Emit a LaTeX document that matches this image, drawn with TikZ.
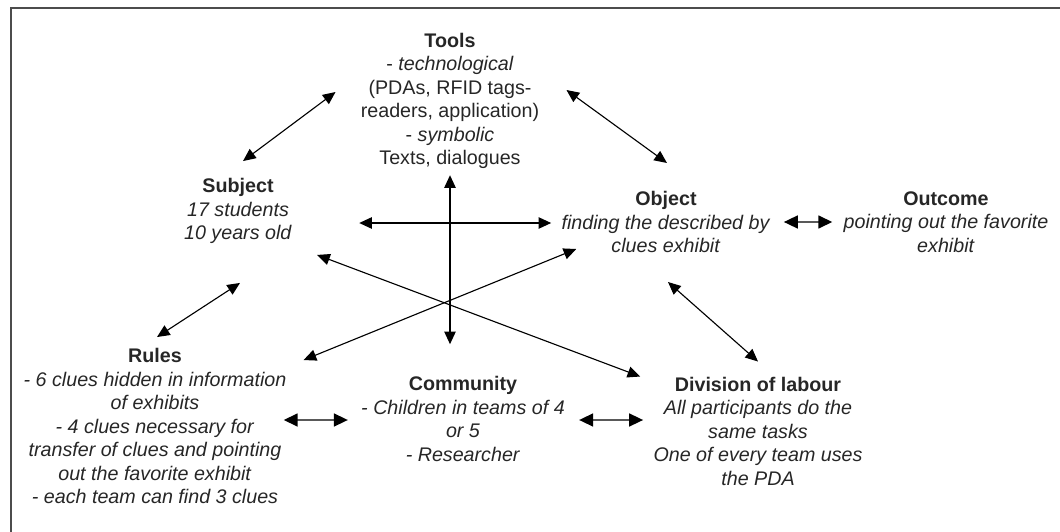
\documentclass[tikz,border=0pt]{standalone}
\usepackage{fontspec}
\setmainfont{Liberation Sans}
\usetikzlibrary{arrows.meta}

\begin{document}
\begin{tikzpicture}[x=0.025cm,y=-0.025cm,<->,>={Triangle[length=9pt,width=8pt]},
  txt node/.style={align=center,inner sep=0pt,text=black!85,font=\fontsize{14}{16.7}\selectfont},
  thin link/.style={line width=0.8pt},
  mid link/.style={line width=1.2pt},
  thick link/.style={line width=1.8pt,draw=black!65,>={Triangle[length=10pt,width=9pt,color=black]}}]
   \useasboundingbox (0,0) rectangle (1060,532);
   \draw[-,line width=1.2pt,black!70] (11,532) -- (11,8) -- (1060,8);

   \node[txt node] (tools)   at (450,101) {\textbf{Tools}\\- \textit{technological}\\(PDAs, RFID tags-\\readers, application)\\- \textit{symbolic}\\Texts, dialogues};
   \node[txt node] (subject) at (238,211) {\textbf{Subject}\\\textit{17 students}\\\textit{10 years old}};
   \node[txt node] (object)  at (666,222) {\textbf{Object}\\\textit{finding the described by}\\\textit{clues exhibit}};
   \node[txt node] (outcome) at (946,222) {\textbf{Outcome}\\\textit{pointing out the favorite}\\\textit{exhibit}};
   \node[txt node] (rules)   at (155,426) {\textbf{Rules}\\\textit{- 6 clues hidden in information}\\\textit{of exhibits}\\\textit{- 4 clues necessary for}\\\textit{transfer of clues and pointing}\\\textit{out the favorite exhibit}\\\textit{- each team can find 3 clues}};
   \node[txt node] (community) at (463,419) {\textbf{Community}\\\textit{- Children in teams of 4}\\\textit{or 5}\\\textit{- Researcher}};
   \node[txt node] (division) at (758,431) {\textbf{Division of labour}\\\textit{All participants do the}\\\textit{same tasks}\\\textit{One of every team uses}\\\textit{the PDA}};

   % triangle sides
   \draw[thin link] ([shift={(5,-17)}]subject.north) -- ([shift={(-25,-9)}]tools.west);
   \draw[thin link] ([shift={(27,-11)}]tools.east) -- ([shift={(1,-28)}]object.north);
   \draw[thin link] ([shift={(2,39)}]subject.south) -- ([shift={(2,-11)}]rules.north);
   \draw[thin link] ([shift={(2,29)}]object.south) -- ([shift={(0,-15)}]division.north);
   % cross in the middle
   \draw[mid link] ([shift={(67,12)}]subject.east) -- ([shift={(-10,1)}]object.west);
   \draw[mid link] ([shift={(0,6)}]tools.south) -- ([shift={(0,-32)}]tools.south |- community.north);
   \draw[thin link] ([shift={(25,11)}]subject.south east) -- ([shift={(-13,0)}]division.north west);
   \draw[thin link] ([shift={(17,12)}]rules.north east) -- ([shift={(15,-4)}]object.south west);
   % short links
   \draw[thick link] ([shift={(13,0)}]object.east) -- ([shift={(-11,0)}]outcome.west);
   \draw[thick link] ([shift={(-3,-6)}]rules.east) -- ([shift={(-13,1)}]community.west);
   \draw[thick link] ([shift={(14,1)}]community.east) -- ([shift={(-10,-11)}]division.west);
\end{tikzpicture}
\end{document}
